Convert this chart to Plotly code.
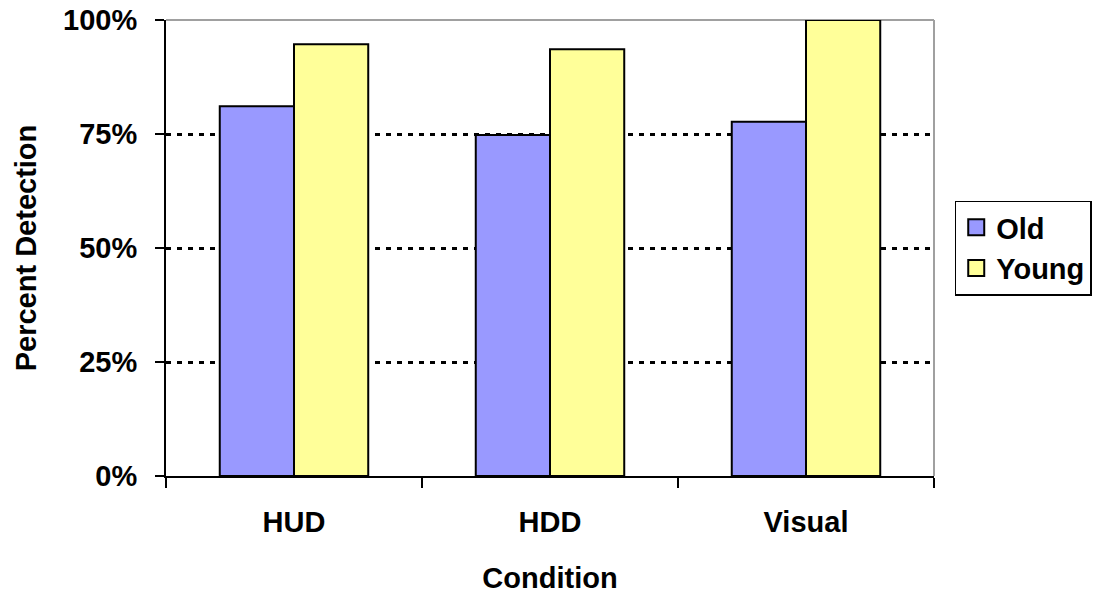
import plotly.graph_objects as go

categories = ["HUD", "HDD", "Visual"]
old_values = [0.811, 0.748, 0.777]
young_values = [0.947, 0.936, 1.0]
series_names = ["Old", "Young"]
y_ticks = [0, 0.25, 0.5, 0.75, 1.0]
y_tick_labels = ["0%", "25%", "50%", "75%", "100%"]

FONT = "Liberation Sans, Arial, sans-serif"
FS = 29
COLORS = {"Old": "#9999ff", "Young": "#ffff99"}

fig = go.Figure()
for name, vals in zip(series_names, [old_values, young_values]):
    fig.add_trace(go.Bar(name=name, x=categories, y=vals, showlegend=False,
                         marker=dict(color=COLORS[name], line=dict(color="black", width=2))))
# legend entries with larger square swatches
for name in series_names:
    fig.add_trace(go.Scatter(name=name, x=[None], y=[None], mode="markers",
                             marker=dict(symbol="square", size=16, color=COLORS[name],
                                         line=dict(color="black", width=2))))

W, H = 1098, 594
fig.update_layout(
    width=W, height=H,
    margin=dict(l=166, r=W - 934, t=20, b=H - 476, pad=0, autoexpand=False),
    paper_bgcolor="white", plot_bgcolor="white",
    barmode="group", bargap=0.42, bargroupgap=0,
    font=dict(family=FONT, size=FS, color="black"),
    showlegend=True,
    legend=dict(x=1.027, y=0.5, xanchor="left", yanchor="middle",
                bordercolor="black", borderwidth=1.5,
                font=dict(family=FONT, size=FS, color="black", weight="bold"),
                tracegroupgap=0, itemsizing="trace"),
    xaxis=dict(
        type="category", tickson="boundaries", ticks="outside", ticklen=10,
        tickcolor="black", tickwidth=1.5, automargin=False,
        showline=True, linecolor="black", linewidth=2,
        tickfont=dict(family=FONT, size=FS, weight="bold"),
        ticklabelstandoff=19,
        title=dict(text="Condition", font=dict(family=FONT, size=FS, weight="bold"), standoff=35),
        showgrid=False,
    ),
    yaxis=dict(
        range=[0, 1.0], tickvals=y_ticks, ticktext=y_tick_labels,
        ticks="outside", ticklen=9, tickcolor="black", tickwidth=1.5, automargin=False,
        showline=True, linecolor="black", linewidth=2,
        tickfont=dict(family=FONT, size=FS, weight="bold"),
        ticklabelstandoff=12,
        title=dict(text="Percent Detection", font=dict(family=FONT, size=FS, weight="bold"), standoff=18),
        showgrid=True, gridcolor="black", gridwidth=2.5, griddash="5px,6px",
        zeroline=False,
    ),
)

# gray border on top and right of the plot area
fig.add_shape(type="line", xref="paper", yref="paper", x0=0, x1=1, y0=1, y1=1,
              line=dict(color="#a0a0a0", width=2), layer="below")
fig.add_shape(type="line", xref="paper", yref="paper", x0=1, x1=1, y0=0, y1=1,
              line=dict(color="#a0a0a0", width=2), layer="below")

fig.write_html("out.html", config={"displayModeBar": False},
               post_script="document.body.style.margin='0';document.body.style.overflow='hidden';")
